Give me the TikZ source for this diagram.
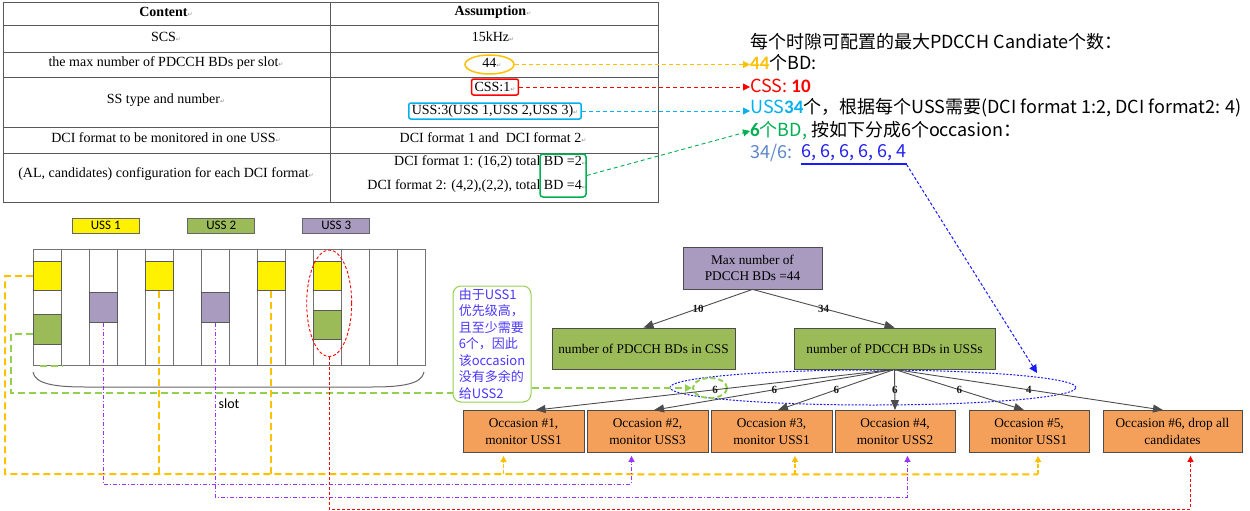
\documentclass[tikz,border=0pt]{standalone}
\usepackage{fontspec}
\setmainfont{Liberation Serif}
\newfontfamily\cjk{Noto Sans CJK SC}
\newfontfamily\calf{Carlito}
\newfontfamily\djv{DejaVu Sans}
\usetikzlibrary{arrows.meta,shapes.geometric,calc}
\definecolor{cyel}{HTML}{FFC000}
\definecolor{cred}{HTML}{FF0000}
\definecolor{cblu}{HTML}{00B0F0}
\definecolor{cgrn}{HTML}{00B050}
\definecolor{clg}{HTML}{92D050}
\definecolor{cpur}{HTML}{9933FF}
\definecolor{cpfill}{HTML}{A99BC0}
\definecolor{cgfill}{HTML}{9BBB59}
\definecolor{corange}{HTML}{F5A05A}
\definecolor{ccall}{HTML}{4A36FF}
\definecolor{cstb}{HTML}{5B87C8}
\definecolor{cnum}{HTML}{2222EE}
\definecolor{cbl}{HTML}{1A1AFF}
\newcommand{\pmk}{{\djv\fontsize{6}{6}\selectfont\textcolor{black!45}{↵}}}
\begin{document}
\begin{tikzpicture}[x=1pt,y=-1pt,
  tline/.style={draw=black!65,line width=0.8pt},
  tx/.style={font=\fontsize{14}{16}\selectfont,inner sep=0pt},
  rt/.style={font=\cjk\fontsize{18}{22}\selectfont,inner sep=0pt,anchor=west},
  tarr/.style={line width=0.9pt,dash pattern=on 4pt off 3pt,-{Triangle[length=7pt,width=7pt]}},
  grid/.style={draw=black!55,line width=1pt},
  blk/.style={draw=black!65,line width=1pt,minimum width=28pt,minimum height=29pt,inner sep=0pt},
  leg/.style={draw=black!60,line width=0.8pt,minimum width=67pt,minimum height=15pt,inner sep=0pt,font=\calf\fontsize{13}{13}\selectfont},
  tbox/.style={draw=black!70,line width=0.8pt,align=center,inner sep=1pt,font=\fontsize{13.3}{16.7}\selectfont},
  occ/.style={tbox,fill=corange,minimum width=121pt,minimum height=42pt},
  tedge/.style={draw=black!70,line width=0.9pt,-{Triangle[length=10pt,width=8pt]}},
  elab/.style={font=\bfseries\fontsize{11}{11}\selectfont,inner sep=0.5pt,text=black!90},
  ydash/.style={draw=cyel,line width=2pt,dash pattern=on 7pt off 4pt},
  gdash/.style={draw=clg,line width=2pt,dash pattern=on 7pt off 4pt},
  pdash/.style={draw=cpur,line width=0.9pt,dash pattern=on 4pt off 2pt on 1pt off 2pt},
  rdash/.style={draw=cred,line width=0.9pt,dash pattern=on 3pt off 2pt},
  uparr/.style={-{Triangle[length=6pt,width=6pt]}}
]
\useasboundingbox (0,0) rectangle (1250,511);

% ---------------- table ----------------
\draw[tline] (3,2) rectangle (658,202);
\draw[tline] (330,2) -- (330,202);
\foreach \yy in {25,52,77,127,153} \draw[tline] (3,\yy) -- (658,\yy);

\node[tx] (hc) at (166,12) {\textbf{Content}\pmk};
\node[tx] (ha) at (493,12) {\textbf{Assumption}\pmk};
\node[tx] (c1) at (166,37) {SCS\pmk};
\node[tx] (a1) at (493,37) {15kHz\pmk};
\node[tx] (c2) at (166,63) {the max number of PDCCH BDs per slot\pmk};
\node[tx] (a2) at (492,63) {44\pmk};
\node[ellipse,draw=cyel,line width=1.5pt,minimum width=49pt,minimum height=19pt,inner sep=0pt] (e44) at (489.5,64.5) {};
\node[tx] (c3) at (166,100) {SS type and number\pmk};
\node[tx,draw=cred,line width=1.5pt,rounded corners=2pt,inner xsep=3pt,minimum height=16pt] (a3a) at (495,87) {CSS:1\pmk};
\node[tx,draw=cblu,line width=1.5pt,rounded corners=2pt,inner xsep=3pt,minimum height=16pt] (a3b) at (495,111) {USS:3(USS 1,USS 2,USS 3)\pmk};
\node[tx] (c4) at (166,138) {DCI format to be monitored in one USS\pmk};
\node[tx] (a4) at (493,138) {DCI format 1 and\ \ DCI format 2\pmk};
\node[tx] (c5) at (166,174) {(AL, candidates) configuration for each DCI format\pmk};
\node[tx,anchor=east] (a5a) at (587,162) {DCI format 1: (16,2) total BD =2\pmk};
\node[tx,anchor=east] (a5b) at (587,186) {DCI format 2: (4,2),(2,2), total BD =4\pmk};
\node[draw=cgrn,line width=1.5pt,rounded corners=3pt,minimum width=46pt,minimum height=43pt,inner sep=0pt] (gbd) at (563,175.5) {};

% ---------------- right text ----------------
\node[rt] (r1) at (750,42) {每个时隙可配置的最大PDCCH Candiate个数：};
\node[rt] (r2) at (750,63) {{\color{cyel}\calf\bfseries\fontsize{19}{22}\selectfont 44}个BD:};
\node[rt,text=cred] (r3) at (750,86) {CSS: {\calf\bfseries\fontsize{19}{22}\selectfont 10}};
\node[rt] (r4) at (750,108) {{\color{cblu}USS{\calf\bfseries\fontsize{19}{22}\selectfont 34}}个，根据每个USS需要(DCI format 1:2, DCI format2: 4)};
\node[rt] (r5) at (750,131) {{\color{cgrn}{\calf\bfseries\fontsize{19}{22}\selectfont 6}个BD,} 按如下分成6个occasion：};
\node[rt,text=cstb] (r6) at (750,153) {34/6:};
\node[rt,text=cnum] (nums) at (801,153) {6, 6, 6, 6, 6, 4};
\draw[cbl,line width=2pt] ([yshift=-3pt]nums.south west) -- ([yshift=-3pt]nums.south east);

\draw[tarr,draw=cyel] (e44.east) -- (e44.east -| r2.west);
\draw[tarr,draw=cred] (a3a.east) -- (a3a.east -| r3.west);
\draw[tarr,draw=cblu] (a3b.east) -- (a3b.east -| r4.west);
\draw[tarr,draw=cgrn] (gbd.east) -- (r5.west);

% ---------------- slot picture ----------------
\node[leg,fill=yellow] (l1) at (105.8,225.8) {USS 1};
\node[leg,fill=cgfill] (l2) at (221.3,225.8) {USS 2};
\node[leg,fill=cpfill] (l3) at (336.3,225.8) {USS 3};

\draw[grid] (33.3,249) rectangle (425.3,365);
\foreach \i in {1,...,13} \draw[grid] ({33.3+28*\i},249) -- ({33.3+28*\i},365);

\node[blk,fill=yellow] (y1) at (47.3,276.2) {};
\node[blk,fill=cgfill,minimum height=29.7pt] (g1) at (47.3,329.2) {};
\node[blk,fill=cpfill,minimum height=30pt] (p1) at (103.3,307.3) {};
\node[blk,fill=yellow] (y4) at (159.3,276.2) {};
\node[blk,fill=cpfill,minimum height=30pt] (p2) at (215.3,307.3) {};
\node[blk,fill=yellow] (y8) at (271.3,276.2) {};
\node[blk,fill=yellow] (y10) at (327.3,276.2) {};
\node[blk,fill=cgfill,minimum height=29.3pt] (g10) at (327.3,324.7) {};

\node[ellipse,draw=cred,dash pattern=on 3pt off 2pt,line width=0.9pt,minimum width=45pt,minimum height=106.6pt,inner sep=0pt] (rell) at (329.2,303.3) {};

\draw[black!60,line width=1pt] (33,372) .. controls (35,384) and (55,387) .. (85,387) -- (372,387) .. controls (402,387) and (422,384) .. (424,372);
\node[font=\calf\fontsize{14}{14}\selectfont,inner sep=0pt] (slot) at (229,404) {slot};
\draw[gdash] (40,366) -- (63,366);

% ---------------- tree ----------------
\node[tbox,fill=cpfill,minimum width=139pt,minimum height=42pt] (max) at (752.5,268) {Max number of\\PDCCH BDs =44};
\node[tbox,fill=cgfill,minimum width=183pt,minimum height=41pt] (css) at (643.5,348.5) {number of PDCCH BDs in CSS};
\node[tbox,fill=cgfill,minimum width=201pt,minimum height=41pt] (uss) at (894.5,348.5) {number of PDCCH BDs in USSs};

\node[occ] (occ1) at (523.5,431.5) {Occasion \#1,\\monitor USS1};
\node[occ] (occ2) at (647.5,431.5) {Occasion \#2,\\monitor USS3};
\node[occ] (occ3) at (771.5,431.5) {Occasion \#3,\\monitor USS1};
\node[occ,minimum width=120pt] (occ4) at (895,431.5) {Occasion \#4,\\monitor USS2};
\node[occ,minimum width=120pt] (occ5) at (1029,431.5) {Occasion \#5,\\monitor USS1};
\node[occ,minimum width=139pt] (occ6) at (1172.5,431.5) {Occasion \#6, drop all\\candidates};

\node[draw=clg,line width=1pt,rounded corners=8pt,minimum width=78pt,minimum height=116pt,align=left,text=ccall,font=\cjk\fontsize{13}{16.5}\selectfont,inner sep=2pt] (call) at (492,344) {由于USS1\\优先级高，\\且至少需要\\6个，因此\\该occasion\\没有多余的\\给USS2};

\node[ellipse,draw=cbl,dash pattern=on 2pt off 1.5pt,line width=1pt,minimum width=406pt,minimum height=35pt,inner sep=0pt] (bell) at (873,387.5) {};
\node[ellipse,draw=clg,dash pattern=on 5pt off 3pt,line width=2pt,minimum width=34pt,minimum height=20pt,inner sep=0pt] (gell) at (710,388) {};

\draw[tedge] (max.south) -- node[elab]{10} (css.north);
\draw[tedge] (max.south) -- node[elab]{34} (uss.north);
\draw[tedge] (uss.south) -- node[elab]{6} ([xshift=12pt]occ1.north);
\draw[tedge] (uss.south) -- node[elab]{6} ([xshift=6.5pt]occ2.north);
\draw[tedge] (uss.south) -- node[elab]{6} ([xshift=6.5pt]occ3.north);
\draw[tedge] (uss.south) -- node[elab]{6} (occ4.north);
\draw[tedge] (uss.south) -- node[elab]{6} ([xshift=-5pt]occ5.north);
\draw[tedge] (uss.south) -- node[elab]{4} ([xshift=-9.5pt]occ6.north);

\draw[gdash,-{Triangle[length=7pt,width=7pt]}] (call.east |- gell.west) -- (gell.west);
\coordinate (btip) at (1037,373);
\draw[draw=cbl,line width=1pt,dash pattern=on 3pt off 2pt,-{Triangle[length=8pt,width=8pt]}] ([yshift=-3pt]nums.south east) -- (btip);

% ---------------- bottom connectors ----------------
\draw[gdash] ($(g1.west)+(0,5)$) -| (11,393) -- (call.west |- 0,393);
\draw[ydash] (y1.west) -| (5,474) -- ($(occ5.south)+(9,21.5)$);
\draw[ydash] (y4.south) -- (y4.south |- 0,474);
\draw[ydash] (y8.south) -- (y8.south |- 0,474);
\draw[ydash,line width=1.5pt,dash pattern=on 4pt off 2pt,uparr] ($(occ1.south)+(-20,21.5)$) -- ($(occ1.south)+(-20,3)$);
\draw[ydash,line width=1.5pt,dash pattern=on 4pt off 2pt,uparr] ($(occ3.south)+(23.5,21.5)$) -- ($(occ3.south)+(23.5,3)$);
\draw[ydash,line width=1.5pt,dash pattern=on 4pt off 2pt,uparr] ($(occ5.south)+(9,21.5)$) -- ($(occ5.south)+(9,3)$);
\draw[pdash,uparr] (p1.south) -- (p1.south |- 0,484) -| ($(occ2.south)+(-16,3)$);
\draw[pdash,uparr] (p2.south) -- (p2.south |- 0,497) -| ($(occ4.south)+(12.5,3)$);
\draw[rdash,uparr] (rell.south) -- (rell.south |- 0,509) -| ($(occ6.south)+(18,3)$);
\end{tikzpicture}
\end{document}
